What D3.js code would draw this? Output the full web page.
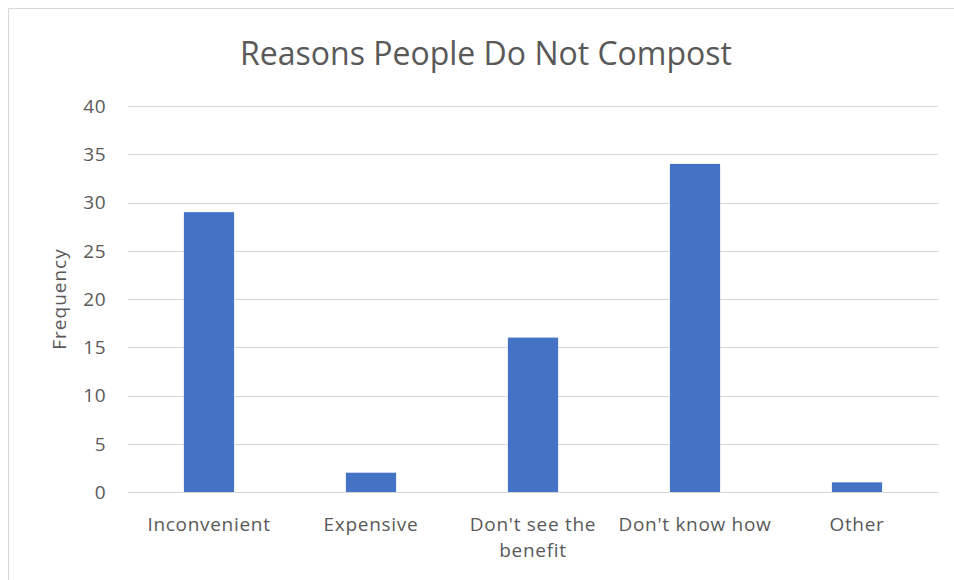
<!DOCTYPE html>
<html>
<head>
<meta charset="utf-8">
<script src="https://cdn.jsdelivr.net/npm/d3@7"></script>
<style>
  html, body { margin: 0; padding: 0; background: #fff; }
  svg { display: block; }
  text { font-family: "Open Sans", "Noto Sans", sans-serif; fill: #595959; }
</style>
</head>
<body>
<svg id="chart" width="954" height="580"></svg>
<script>
// Survey answers: why people do not compost
const categories = ["Inconvenient", "Expensive", "Don't see the benefit", "Don't know how", "Other"];
const frequencies = [29, 2, 16, 34, 1];
const yTicks = [0, 5, 10, 15, 20, 25, 30, 35, 40];
const titleText = "Reasons People Do Not Compost";
const yAxisTitle = "Frequency";

const svg = d3.select("#chart");
const W = 954, H = 580;
const margin = { left: 128, right: 16, top: 106, bottom: 88 };

// Chart frame (only top and left edges fall inside the view)
svg.append("path")
  .attr("d", `M8.5,${H} V8.5 H${W}`)
  .attr("fill", "none")
  .attr("stroke", "#d9d9d9")
  .attr("stroke-width", 1);

const x = d3.scaleBand()
  .domain(categories)
  .range([margin.left, W - margin.right])
  .paddingInner(0.69)
  .paddingOuter(0.345);

const y = d3.scaleLinear()
  .domain([0, 40])
  .range([H - margin.bottom, margin.top]);

// Gridlines
svg.append("g")
  .selectAll("line")
  .data(yTicks)
  .join("line")
  .attr("x1", margin.left)
  .attr("x2", W - margin.right)
  .attr("y1", d => Math.round(y(d)) + 0.5)
  .attr("y2", d => Math.round(y(d)) + 0.5)
  .attr("stroke", "#d9d9d9")
  .attr("stroke-width", 1);

// Y tick labels
svg.append("g")
  .selectAll("text")
  .data(yTicks)
  .join("text")
  .attr("x", 106)
  .attr("y", d => y(d))
  .attr("dy", "0.36em")
  .attr("text-anchor", "end")
  .attr("font-size", 19)
  .attr("letter-spacing", "0.5px")
  .text(d => d);

// Bars
svg.append("g")
  .selectAll("rect")
  .data(categories)
  .join("rect")
  .attr("x", d => x(d))
  .attr("width", x.bandwidth())
  .attr("y", (d, i) => y(frequencies[i]))
  .attr("height", (d, i) => y(0) - y(frequencies[i]))
  .attr("fill", "#4472c4");

// Category labels, wrapped when too wide for one slot
const labels = svg.append("g")
  .selectAll("text")
  .data(categories)
  .join("text")
  .attr("text-anchor", "middle")
  .attr("font-size", 19)
  .attr("letter-spacing", "0.7px")
  .attr("y", 531);

labels.each(function(d) {
  const t = d3.select(this);
  const cx = x(d) + x.bandwidth() / 2;
  const lines = d === "Don't see the benefit" ? ["Don't see the", "benefit"] : [d];
  lines.forEach((ln, i) => {
    t.append("tspan").attr("x", cx).attr("dy", i === 0 ? 0 : 26).text(ln);
  });
});

// Y axis title
svg.append("text")
  .attr("transform", `translate(66,${y(20)}) rotate(-90)`)
  .attr("text-anchor", "middle")
  .attr("font-size", 19)
  .attr("letter-spacing", "1px")
  .text(yAxisTitle);

// Chart title
svg.append("text")
  .attr("x", 486)
  .attr("y", 65)
  .attr("text-anchor", "middle")
  .attr("font-size", 32)
  .text(titleText);
</script>
</body>
</html>
